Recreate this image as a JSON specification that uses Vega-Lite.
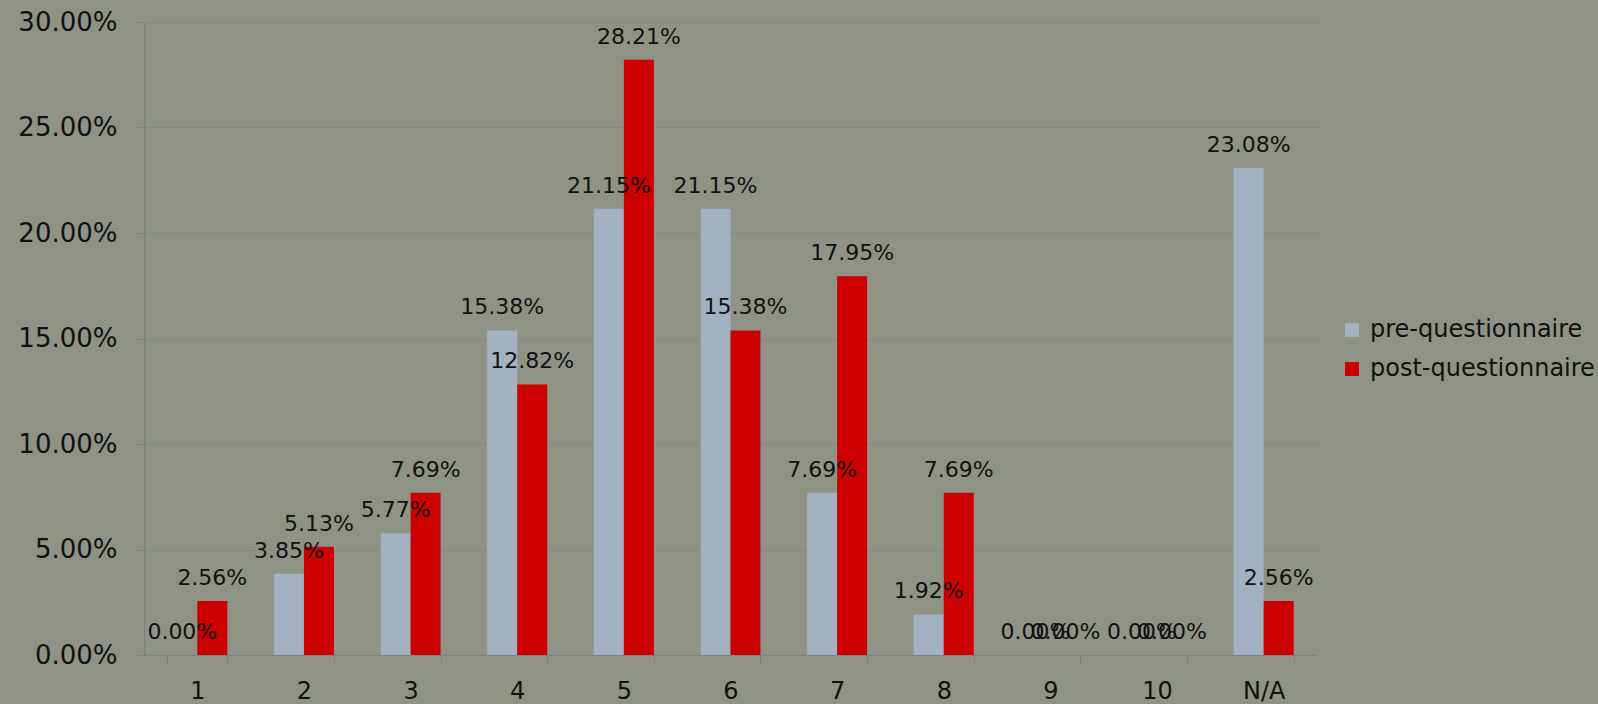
{
  "$schema": "https://vega.github.io/schema/vega-lite/v6.json",
  "autosize": "none",
  "width": 1173,
  "height": 633,
  "padding": {"left": 144, "top": 22, "right": 281, "bottom": 49},
  "background": "#8f9386",
  "config": {
    "view": {"stroke": null},
    "font": "DejaVu Sans",
    "text": {"font": "DejaVu Sans"}
  },
  "data": {
    "values": [
      {"cat": "1", "series": "pre-questionnaire", "value": 0.0},
      {"cat": "2", "series": "pre-questionnaire", "value": 0.0385},
      {"cat": "3", "series": "pre-questionnaire", "value": 0.0577},
      {"cat": "4", "series": "pre-questionnaire", "value": 0.1538},
      {"cat": "5", "series": "pre-questionnaire", "value": 0.2115},
      {"cat": "6", "series": "pre-questionnaire", "value": 0.2115},
      {"cat": "7", "series": "pre-questionnaire", "value": 0.0769},
      {"cat": "8", "series": "pre-questionnaire", "value": 0.0192},
      {"cat": "9", "series": "pre-questionnaire", "value": 0.0},
      {"cat": "10", "series": "pre-questionnaire", "value": 0.0},
      {"cat": "N/A", "series": "pre-questionnaire", "value": 0.2308},
      {"cat": "1", "series": "post-questionnaire", "value": 0.0256},
      {"cat": "2", "series": "post-questionnaire", "value": 0.0513},
      {"cat": "3", "series": "post-questionnaire", "value": 0.0769},
      {"cat": "4", "series": "post-questionnaire", "value": 0.1282},
      {"cat": "5", "series": "post-questionnaire", "value": 0.2821},
      {"cat": "6", "series": "post-questionnaire", "value": 0.1538},
      {"cat": "7", "series": "post-questionnaire", "value": 0.1795},
      {"cat": "8", "series": "post-questionnaire", "value": 0.0769},
      {"cat": "9", "series": "post-questionnaire", "value": 0.0},
      {"cat": "10", "series": "post-questionnaire", "value": 0.0},
      {"cat": "N/A", "series": "post-questionnaire", "value": 0.0256}
    ]
  },
  "encoding": {
    "x": {
      "field": "cat", "type": "nominal",
      "sort": ["1","2","3","4","5","6","7","8","9","10","N/A"],
      "scale": {"paddingInner": 0.4375, "paddingOuter": 0.21875},
      "axis": {
        "title": null, "labelAngle": 0, "labelFontSize": 24, "labelColor": "#111111",
        "labelPadding": 16, "domainColor": "#7c8088", "domainWidth": 1.5,
        "tickColor": "#7c8088", "tickSize": 8, "tickBand": "extent", "grid": false
      }
    },
    "xOffset": {"field": "series", "type": "nominal", "sort": ["pre-questionnaire", "post-questionnaire"], "scale": {"paddingInner": 0, "paddingOuter": 0}},
    "y": {
      "field": "value", "type": "quantitative",
      "scale": {"domain": [0, 0.3], "nice": false},
      "axis": {
        "title": null, "format": ".2%", "values": [0, 0.05, 0.1, 0.15, 0.2, 0.25, 0.3],
        "labelFontSize": 26, "labelColor": "#111111", "labelPadding": 19,
        "domainColor": "#7c8088", "domainWidth": 1.5,
        "tickColor": "#7c8088", "tickSize": 8,
        "grid": true, "gridColor": "#82878d", "gridWidth": 1
      }
    }
  },
  "layer": [
    {
      "mark": {"type": "bar"},
      "encoding": {
        "color": {
          "field": "series", "type": "nominal",
          "sort": ["pre-questionnaire", "post-questionnaire"],
          "scale": {"domain": ["pre-questionnaire", "post-questionnaire"], "range": ["#a3b2c2", "#cc0000"]},
          "legend": {
            "title": null, "orient": "none", "legendX": 1196, "legendY": 296,
            "symbolType": "square", "symbolSize": 196, "symbolStrokeWidth": 0,
            "labelFontSize": 24, "labelColor": "#111111", "labelOffset": 6, "labelLimit": 0,
            "rowPadding": 15
          }
        }
      }
    },
    {
      "mark": {"type": "text", "baseline": "alphabetic", "dy": -16, "fontSize": 22, "color": "#111111"},
      "encoding": {
        "text": {"field": "value", "type": "quantitative", "format": ".2%"}
      }
    }
  ]
}
